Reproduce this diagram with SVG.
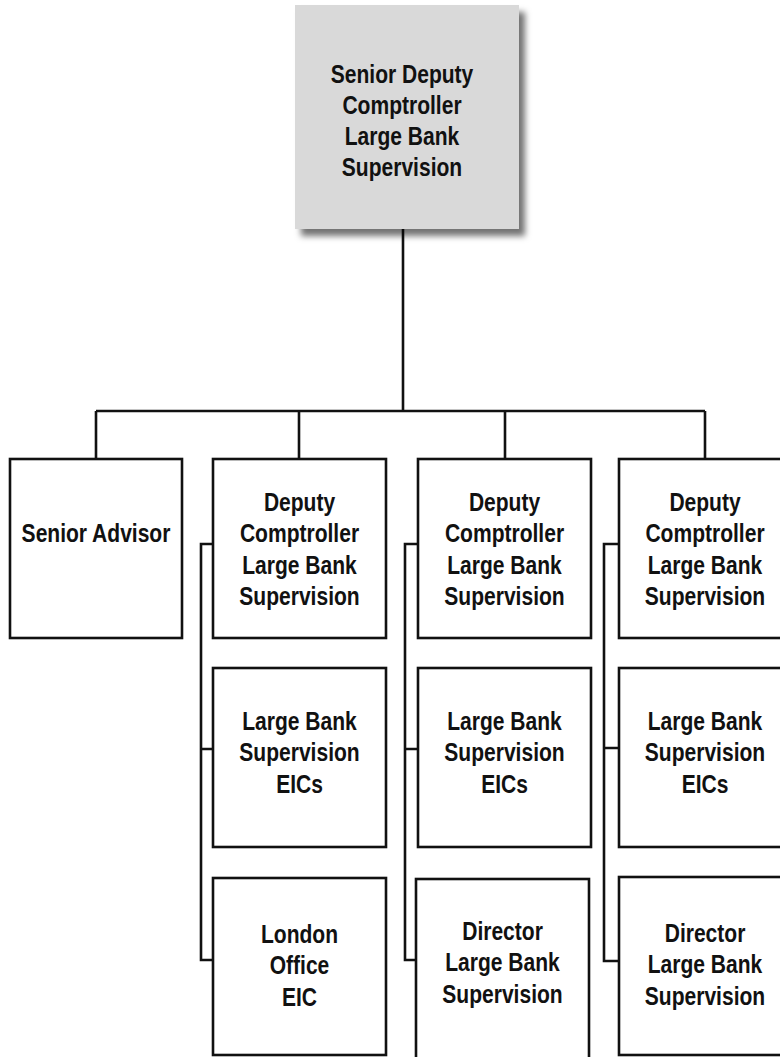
<svg xmlns="http://www.w3.org/2000/svg" width="780" height="1057" viewBox="0 0 780 1057">
<defs>
<filter id="shadow" x="-10%" y="-10%" width="130%" height="130%">
<feDropShadow dx="6" dy="7" stdDeviation="3" flood-color="#000" flood-opacity="0.55"/>
</filter>
<style>
.box{fill:#fff;stroke:#111;stroke-width:2.6}
.top{fill:#d9d9d9;stroke:none}
.lbl{font-family:"Liberation Sans",Arial,sans-serif;font-weight:bold;font-size:25.5px;fill:#111;text-anchor:middle}
.con{fill:none;stroke:#111;stroke-width:2.6}
</style>
</defs>
<rect width="780" height="1057" fill="#fff"/>
<g id="connectors">
<path class="con" d="M403,229 V411 M96,411 H705 M96,411 V459 M299,411 V459 M505,411 V459 M705,411 V459"/>
<path class="con" d="M213,544 H201 V960 H213 M201,749 H213"/>
<path class="con" d="M418,544 H405 V960 H416 M405,749 H418"/>
<path class="con" d="M619,544 H604 V961 H619 M604,748 H619"/>
</g>
<g id="senior-deputy">
<rect class="top" x="295" y="5" width="224" height="224" filter="url(#shadow)"/>
<text class="lbl" transform="translate(402 0) scale(0.825 1)"><tspan x="0" y="83">Senior Deputy</tspan><tspan x="0" y="114">Comptroller</tspan><tspan x="0" y="145">Large Bank</tspan><tspan x="0" y="176">Supervision</tspan></text>
</g>
<g id="senior-advisor">
<rect class="box" x="10" y="459" width="172" height="179"/>
<text class="lbl" transform="translate(96 0) scale(0.825 1)"><tspan x="0" y="542">Senior Advisor</tspan></text>
</g>
<g id="deputy-1">
<rect class="box" x="213" y="459" width="173" height="179"/>
<text class="lbl" transform="translate(299.5 0) scale(0.825 1)"><tspan x="0" y="511">Deputy</tspan><tspan x="0" y="542.5">Comptroller</tspan><tspan x="0" y="574">Large Bank</tspan><tspan x="0" y="605.5">Supervision</tspan></text>
</g>
<g id="deputy-2">
<rect class="box" x="418" y="459" width="173" height="179"/>
<text class="lbl" transform="translate(504.5 0) scale(0.825 1)"><tspan x="0" y="511">Deputy</tspan><tspan x="0" y="542.5">Comptroller</tspan><tspan x="0" y="574">Large Bank</tspan><tspan x="0" y="605.5">Supervision</tspan></text>
</g>
<g id="deputy-3">
<rect class="box" x="619" y="459" width="173" height="179"/>
<text class="lbl" transform="translate(705 0) scale(0.825 1)"><tspan x="0" y="511">Deputy</tspan><tspan x="0" y="542.5">Comptroller</tspan><tspan x="0" y="574">Large Bank</tspan><tspan x="0" y="605.5">Supervision</tspan></text>
</g>
<g id="eics-1">
<rect class="box" x="213" y="668" width="173" height="179"/>
<text class="lbl" transform="translate(299.5 0) scale(0.825 1)"><tspan x="0" y="730">Large Bank</tspan><tspan x="0" y="761.5">Supervision</tspan><tspan x="0" y="793">EICs</tspan></text>
</g>
<g id="eics-2">
<rect class="box" x="418" y="668" width="173" height="179"/>
<text class="lbl" transform="translate(504.5 0) scale(0.825 1)"><tspan x="0" y="730">Large Bank</tspan><tspan x="0" y="761.5">Supervision</tspan><tspan x="0" y="793">EICs</tspan></text>
</g>
<g id="eics-3">
<rect class="box" x="619" y="668" width="173" height="179"/>
<text class="lbl" transform="translate(705 0) scale(0.825 1)"><tspan x="0" y="730">Large Bank</tspan><tspan x="0" y="761.5">Supervision</tspan><tspan x="0" y="793">EICs</tspan></text>
</g>
<g id="london">
<rect class="box" x="213" y="878" width="173" height="177"/>
<text class="lbl" transform="translate(299.5 0) scale(0.825 1)"><tspan x="0" y="943">London</tspan><tspan x="0" y="974.5">Office</tspan><tspan x="0" y="1006">EIC</tspan></text>
</g>
<g id="director-2">
<rect class="box" x="416" y="879" width="173" height="190"/>
<text class="lbl" transform="translate(502.5 0) scale(0.825 1)"><tspan x="0" y="940">Director</tspan><tspan x="0" y="971.5">Large Bank</tspan><tspan x="0" y="1003">Supervision</tspan></text>
</g>
<g id="director-3">
<rect class="box" x="619" y="877" width="173" height="178"/>
<text class="lbl" transform="translate(705 0) scale(0.825 1)"><tspan x="0" y="942">Director</tspan><tspan x="0" y="973.5">Large Bank</tspan><tspan x="0" y="1005">Supervision</tspan></text>
</g>
</svg>
